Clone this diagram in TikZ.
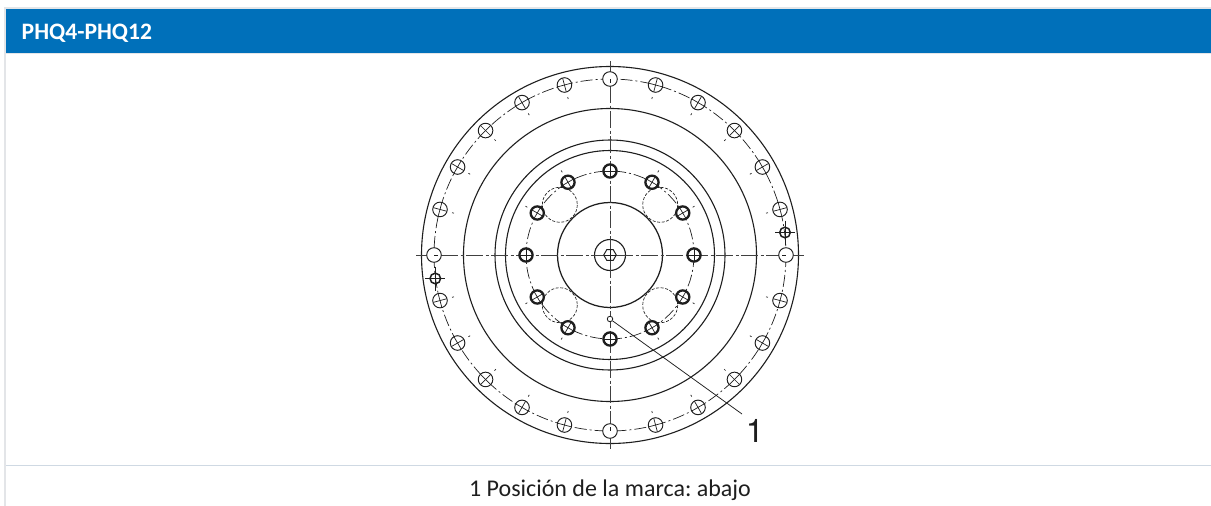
\documentclass[tikz,border=0pt]{standalone}
\usepackage{fontspec}
\setmainfont{Carlito}
\newfontfamily\calloutface{TeX Gyre Heros}
\definecolor{hdrblue}{HTML}{0070BA}
\definecolor{frameg}{HTML}{E3E5E8}
\definecolor{rowline}{HTML}{CFD9E3}
\definecolor{ink}{HTML}{1E1E1E}
\frenchspacing
\begin{document}
\begin{tikzpicture}[x=1pt,y=-1pt,
  ring/.style={draw=ink,line width=1.1pt},
  hubring/.style={draw=ink,line width=1.25pt},
  pitch/.style={draw=ink,line width=0.7pt,dash pattern=on 12pt off 3pt on 2pt off 3pt},
  hidden/.style={draw=ink,line width=0.65pt,dash pattern=on 3pt off 1.6pt},
  axisline/.style={draw=ink!85,line width=0.85pt,dash pattern=on 17pt off 2.5pt on 3pt off 2.5pt},
  hole/.style={draw=ink,fill=white,line width=0.95pt},
  boldhole/.style={draw=ink,fill=white,line width=2.3pt},
  fine/.style={draw=ink,line width=0.7pt},
  leader/.style={draw=ink,line width=0.75pt},
  hdrtext/.style={text=white,font=\fontsize{23.6}{25}\selectfont\bfseries,anchor=base west,inner sep=0pt},
  captext/.style={text=ink,font=\fontsize{24}{26}\selectfont,anchor=base,inner sep=0pt},
  numtext/.style={text=ink,font=\calloutface\fontsize{32.5}{34}\selectfont,anchor=base,inner sep=0pt}]
\useasboundingbox (0,0) rectangle (1211,506);
% table frame
\fill[frameg] (4,7) rectangle (1211,54);
\fill[frameg] (4,7) rectangle (6,506);
\fill[hdrblue] (6,9) rectangle (1211,53);
\draw[rowline,line width=1pt] (6,465.5) -- (1211,465.5);
\node[hdrtext] (title) at (21.5,39.3) {PHQ4-PHQ12};
\node[captext] (caption) at (610,496) {1 Posición de la marca: abajo};
\begin{scope}[shift={(610,255)}]
  % concentric rings
  \draw[ring] (0,0) circle (188.5);
  \draw[ring] (0,0) circle (146.5);
  \draw[ring] (0,0) circle (115);
  \draw[ring] (0,0) circle (104.5);
  \draw[hubring] (0,0) circle (52.5);
  \draw[ring] (0,0) circle (15.5);
  % pitch circles
  \draw[pitch] (0,0) circle (176);
  \draw[pitch] (0,0) circle (84);
  % hidden bores
  \foreach \a in {45,135,225,315}
    \draw[hidden] (\a:71) circle (17.5);
  % centre lines
  \draw[axisline] (-194,0) -- (194,0);
  \draw[axisline] (0,-194) -- (0,194);
  % hexagon socket
  \draw[ink,line width=0.95pt,fill=white] (0:6.3) -- (60:6.3) -- (120:6.3) -- (180:6.3) -- (240:6.3) -- (300:6.3) -- cycle;
  \draw[fine] (-6.3,0) -- (6.3,0) (0,-5.4) -- (0,5.4);
  % outer holes
  \foreach \a in {0,90,180,270} {
    \draw[hole] (\a:176) circle (7.3);
    \draw[fine] (\a:172) -- (\a:176);
  }
  \foreach \a in {15,30,45,60,75,105,120,135,150,165,195,210,225,240,255,285,300,315,330,345} {
    \draw[hole] (\a:176) circle (7.3);
    \draw[fine] (\a:169) -- (\a:183);
    \draw[fine] ([shift={(\a+90:7.3)}]\a:176) -- ([shift={(\a-90:7.3)}]\a:176);
    \draw[fine] (\a:161.5) -- (\a:163.5);
  }
  % inner holes
  \foreach \a in {0,30,...,330} {
    \draw[boldhole] (\a:84) circle (6.6);
    \draw[fine] (\a:78) -- (\a:90);
    \draw[fine] ([shift={(\a+90:6)}]\a:84) -- ([shift={(\a-90:6)}]\a:84);
  }
  \foreach \a in {30,60,120,150,210,240,300,330}
    \draw[fine] (\a:95.5) -- (\a:97.5);
\end{scope}
% two extra holes
\foreach \x/\y in {785/232.5,435.3/278.5} {
  \draw[fine] (\x-10,\y) -- (\x+10,\y) (\x,\y-12) -- (\x,\y+12);
  \draw[draw=ink,line width=1.5pt] (\x,\y) circle (5.3);
}
% mark and leader
\node[draw=ink,fill=white,line width=0.85pt,circle,inner sep=0pt,minimum size=5.5pt] (mark) at (610,319) {};
\coordinate (legend) at (742,414);
\draw[leader] (mark) -- (legend);
\node[numtext] (num) at (755,442) {1};
\end{tikzpicture}
\end{document}
